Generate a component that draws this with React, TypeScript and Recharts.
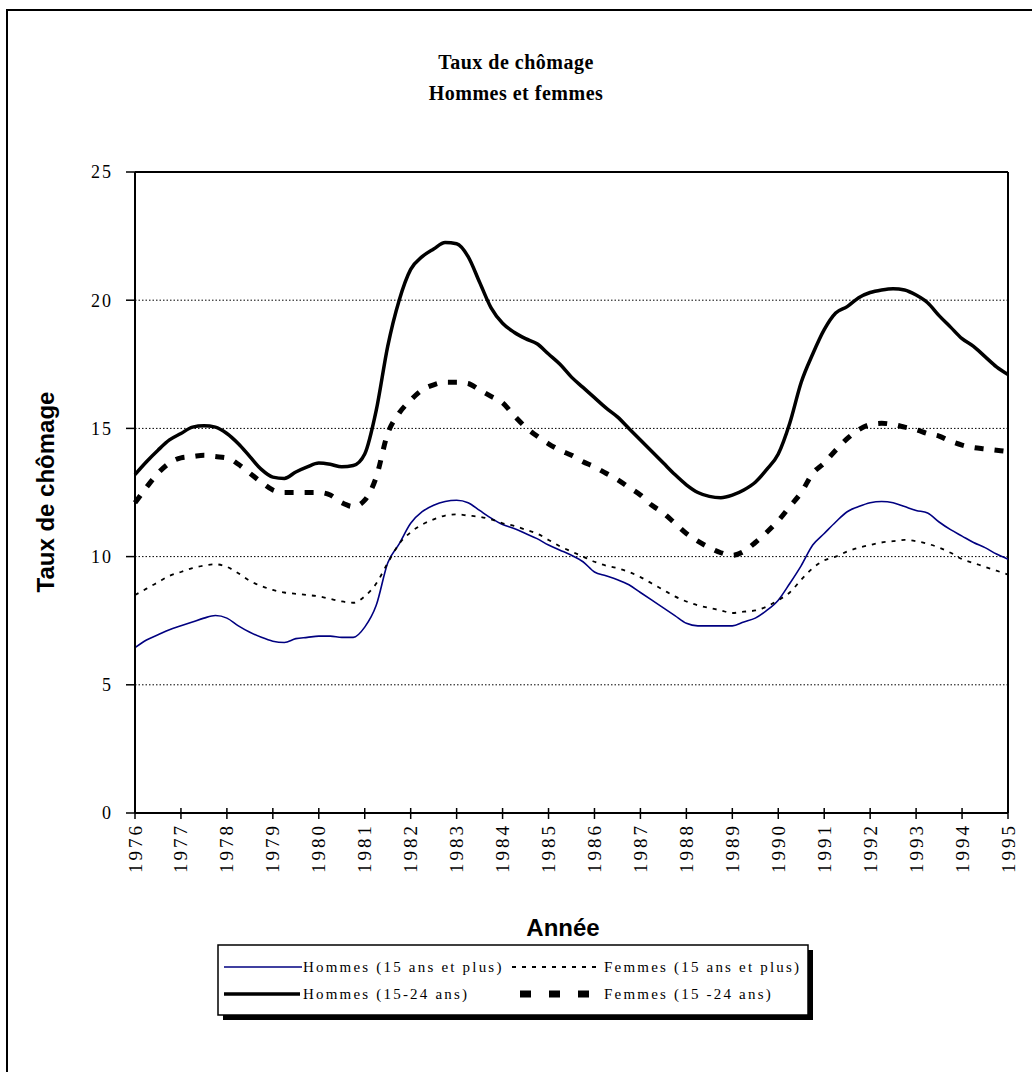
import { CartesianGrid, Line, LineChart, ReferenceLine, XAxis, YAxis } from 'recharts'

// quarterly points, 1976 -> 1995
const periods = [
  1976, 1976.25, 1976.5, 1976.75, 1977, 1977.25, 1977.5, 1977.75,
  1978, 1978.25, 1978.5, 1978.75, 1979, 1979.25, 1979.5, 1979.75,
  1980, 1980.25, 1980.5, 1980.75, 1981, 1981.25, 1981.5, 1981.75,
  1982, 1982.25, 1982.5, 1982.75, 1983, 1983.25, 1983.5, 1983.75,
  1984, 1984.25, 1984.5, 1984.75, 1985, 1985.25, 1985.5, 1985.75,
  1986, 1986.25, 1986.5, 1986.75, 1987, 1987.25, 1987.5, 1987.75,
  1988, 1988.25, 1988.5, 1988.75, 1989, 1989.25, 1989.5, 1989.75,
  1990, 1990.25, 1990.5, 1990.75, 1991, 1991.25, 1991.5, 1991.75,
  1992, 1992.25, 1992.5, 1992.75, 1993, 1993.25, 1993.5, 1993.75,
  1994, 1994.25, 1994.5, 1994.75, 1995,
]

const hommes15 = [
  6.45, 6.75, 6.95, 7.15, 7.3, 7.45, 7.6, 7.7,
  7.6, 7.3, 7.05, 6.85, 6.7, 6.65, 6.8, 6.85,
  6.9, 6.9, 6.85, 6.85, 7.25, 8.1, 9.75, 10.5,
  11.3, 11.75, 12.0, 12.15, 12.2, 12.1, 11.8, 11.5,
  11.25, 11.1, 10.9, 10.7, 10.45, 10.25, 10.05, 9.8,
  9.4, 9.25, 9.1, 8.9, 8.6, 8.3, 8.0, 7.7,
  7.4, 7.3, 7.3, 7.3, 7.3, 7.45, 7.6, 7.9,
  8.3, 8.95, 9.65, 10.45, 10.9, 11.35, 11.75, 11.95,
  12.1, 12.15, 12.1, 11.95, 11.8, 11.7, 11.35, 11.05,
  10.8, 10.55, 10.35, 10.1, 9.9,
]

const femmes15 = [
  8.5, 8.75, 9.0, 9.25, 9.4, 9.55, 9.65, 9.7,
  9.6, 9.35, 9.05, 8.85, 8.7, 8.6, 8.55, 8.5,
  8.45, 8.35, 8.25, 8.2, 8.45, 8.95, 9.75, 10.5,
  10.95, 11.25, 11.45, 11.6, 11.65, 11.6, 11.55, 11.45,
  11.3, 11.2, 11.05, 10.9, 10.65, 10.4, 10.2, 10.0,
  9.8, 9.65, 9.55, 9.4, 9.2, 8.95, 8.7, 8.45,
  8.25, 8.1, 8.0, 7.9, 7.8, 7.85, 7.9, 8.05,
  8.3, 8.6, 9.1, 9.55, 9.85, 10.0, 10.2, 10.35,
  10.45, 10.55, 10.6, 10.65, 10.6, 10.5, 10.35, 10.15,
  9.9, 9.75, 9.6, 9.45, 9.3,
]

const hommes1524 = [
  13.2, 13.7, 14.15, 14.55, 14.8, 15.05, 15.1, 15.05,
  14.8, 14.4, 13.9, 13.4, 13.1, 13.05, 13.3, 13.5,
  13.65, 13.6, 13.5, 13.55, 14.0, 15.7, 18.2, 20.0,
  21.2, 21.7, 22.0, 22.25, 22.2, 21.7, 20.7, 19.7,
  19.1, 18.75, 18.5, 18.3, 17.9, 17.5, 17.0, 16.6,
  16.2, 15.8, 15.45, 15.0, 14.55, 14.1, 13.65, 13.2,
  12.8, 12.5, 12.35, 12.3, 12.4, 12.6, 12.9, 13.4,
  14.0, 15.2, 16.8, 17.9, 18.85, 19.5, 19.75, 20.1,
  20.3, 20.4, 20.45, 20.4, 20.2, 19.9, 19.4, 18.95,
  18.5, 18.2, 17.8, 17.4, 17.1,
]

const femmes1524 = [
  12.1, 12.7, 13.25, 13.65, 13.85, 13.9, 13.95, 13.9,
  13.85, 13.6, 13.25, 12.9, 12.6, 12.5, 12.5, 12.5,
  12.5, 12.4, 12.1, 11.95, 12.2, 13.1, 14.8, 15.6,
  16.1, 16.5, 16.7, 16.8, 16.8, 16.75, 16.5, 16.25,
  16.0, 15.5, 15.05, 14.7, 14.4, 14.15, 13.95, 13.7,
  13.5, 13.25, 13.0, 12.7, 12.4, 12.0, 11.7, 11.3,
  10.9, 10.6, 10.35, 10.15, 10.05, 10.2, 10.55, 10.95,
  11.4, 11.95, 12.5, 13.25, 13.65, 14.15, 14.6, 14.95,
  15.15, 15.2, 15.15, 15.05, 14.95, 14.8, 14.7, 14.5,
  14.35, 14.25, 14.2, 14.15, 14.1,
]

const yearTicks = [
  1976, 1977, 1978, 1979, 1980, 1981, 1982, 1983, 1984, 1985,
  1986, 1987, 1988, 1989, 1990, 1991, 1992, 1993, 1994, 1995,
]
const rateTicks = [0, 5, 10, 15, 20, 25]

const data = periods.map((t, i) => ({
  t,
  h15: hommes15[i],
  f15: femmes15[i],
  h24: hommes1524[i],
  f24: femmes1524[i],
}))

const SERIF = "'Liberation Serif', 'Times New Roman', serif"
const SANS = "'Liberation Sans', Arial, sans-serif"
const NAVY = '#000080'

function YearTick({ x, y, payload }: any) {
  return (
    <g>
      <line x1={x} x2={x} y1={y - 5} y2={y + 6} stroke="#000" strokeWidth={1.5} />
      <text
        x={x}
        y={y + 10}
        transform={`rotate(-90 ${x} ${y + 10})`}
        textAnchor="end"
        dominantBaseline="central"
        fontFamily={SERIF}
        fontSize={19}
        letterSpacing={3}
        fill="#000"
      >
        {payload.value}
      </text>
    </g>
  )
}

const legendText = {
  fontFamily: SERIF,
  fontSize: 15,
  letterSpacing: 2.2,
  dominantBaseline: 'central' as const,
}

export default function App() {
  return (
    <div
      style={{
        position: 'absolute',
        left: 0,
        top: 0,
        width: 1032,
        height: 1072,
        overflow: 'hidden',
        background: '#fff',
      }}
    >
      <div
        style={{
          position: 'absolute',
          left: 6,
          top: 9,
          width: 1040,
          height: 1080,
          border: '2px solid #000',
        }}
      />
      <div style={{ position: 'absolute', left: 0, top: 0 }}>
        <LineChart
          width={1032}
          height={1072}
          data={data}
          margin={{ top: 172, right: 24, bottom: 189, left: 75 }}
        >
          <CartesianGrid vertical={false} stroke="#000" strokeDasharray="1.5 2" />
          <XAxis
            dataKey="t"
            type="number"
            domain={[1976, 1995]}
            ticks={yearTicks}
            interval={0}
            height={70}
            tickSize={0}
            tickMargin={0}
            tickLine={false}
            axisLine={{ stroke: '#000', strokeWidth: 2 }}
            tick={<YearTick />}
          />
          <YAxis
            domain={[0, 25]}
            ticks={rateTicks}
            width={60}
            tickSize={9}
            tickMargin={13}
            tickLine={{ stroke: '#000', strokeWidth: 1.5 }}
            axisLine={{ stroke: '#000', strokeWidth: 2 }}
            tick={{ fill: '#000', fontSize: 18, fontFamily: SERIF, letterSpacing: 2 }}
          />
          <ReferenceLine y={25} stroke="#000" strokeWidth={2} />
          <ReferenceLine x={1995} stroke="#000" strokeWidth={2} />
          <Line
            dataKey="h15"
            type="monotone"
            stroke={NAVY}
            strokeWidth={1.6}
            dot={false}
            isAnimationActive={false}
          />
          <Line
            dataKey="f15"
            type="monotone"
            stroke="#000"
            strokeWidth={1.8}
            strokeDasharray="4 6"
            dot={false}
            isAnimationActive={false}
          />
          <Line
            dataKey="h24"
            type="monotone"
            stroke="#000"
            strokeWidth={3.5}
            dot={false}
            isAnimationActive={false}
          />
          <Line
            dataKey="f24"
            type="monotone"
            stroke="#000"
            strokeWidth={5}
            strokeDasharray="9 11"
            dot={false}
            isAnimationActive={false}
          />
        </LineChart>
      </div>
      <svg
        width={1032}
        height={1072}
        style={{ position: 'absolute', left: 0, top: 0, pointerEvents: 'none' }}
      >
        <text x={516} y={62} textAnchor="middle" dominantBaseline="central" fontFamily={SERIF} fontWeight="bold" fontSize={20} letterSpacing={0.5}>
          Taux de chômage
        </text>
        <text x={516} y={93} textAnchor="middle" dominantBaseline="central" fontFamily={SERIF} fontWeight="bold" fontSize={20} letterSpacing={0.5}>
          Hommes et femmes
        </text>
        <text
          x={45}
          y={492}
          transform="rotate(-90 45 492)"
          textAnchor="middle"
          dominantBaseline="central"
          fontFamily={SANS}
          fontWeight="bold"
          fontSize={24}
        >
          Taux de chômage
        </text>
        <text x={563} y={927} textAnchor="middle" dominantBaseline="central" fontFamily={SANS} fontWeight="bold" fontSize={24}>
          Année
        </text>

        <rect x={223} y={950} width={590} height={70} fill="#000" />
        <rect x={218} y={945} width={590} height={70} fill="#fff" stroke="#000" strokeWidth={1.5} />
        <line x1={224} x2={302} y1={967} y2={967} stroke={NAVY} strokeWidth={1.6} />
        <text x={303} y={967} {...legendText}>
          Hommes (15 ans et plus)
        </text>
        <line x1={512} x2={601} y1={967} y2={967} stroke="#000" strokeWidth={1.8} strokeDasharray="4 6" />
        <text x={604} y={967} {...legendText}>
          Femmes (15 ans et plus)
        </text>
        <line x1={224} x2={300} y1={994} y2={994} stroke="#000" strokeWidth={3.5} />
        <text x={303} y={994} {...legendText}>
          Hommes (15-24 ans)
        </text>
        <line x1={520} x2={590} y1={994} y2={994} stroke="#000" strokeWidth={7} strokeDasharray="11 18" />
        <text x={604} y={994} {...legendText}>
          Femmes (15 -24 ans)
        </text>
      </svg>
    </div>
  )
}
